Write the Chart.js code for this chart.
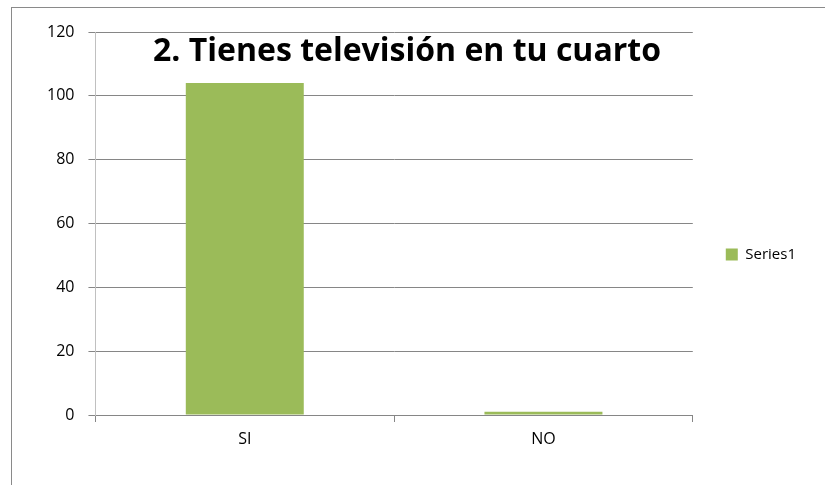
<!DOCTYPE html>
<html>
<head>
<meta charset="utf-8">
<script src="https://cdn.jsdelivr.net/npm/chart.js@4/dist/chart.umd.min.js"></script>
<style>
  html, body { margin: 0; padding: 0; background: #fff; overflow: hidden; }
  #wrap { position: relative; width: 825px; height: 485px; }
  #frame { position: absolute; left: 11px; top: 7px; width: 900px; height: 600px;
           border: 1px solid #8a8a8a; pointer-events: none; }
</style>
</head>
<body>
<div id="wrap">
  <canvas id="grafico" width="825" height="485"></canvas>
  <div id="frame"></div>
</div>
<script>
const titulo = '2. Tienes televisión en tu cuarto';
const categorias = ['SI', 'NO'];
const valores = [104, 1];
const serieNombre = 'Series1';
const ticksY = [0, 20, 40, 60, 80, 100, 120];

const verde = '#9bbb59';
const gris = '#868686';
const fuente = '"Open Sans", sans-serif';

// titulo dibujado encima del area del grafico (como en Excel)
const tituloPlugin = {
  id: 'tituloEncima',
  afterDraw(chart) {
    const c = chart.ctx;
    c.save();
    c.font = 'bold 32px ' + fuente;
    c.fillStyle = '#000';
    c.textAlign = 'center';
    c.textBaseline = 'alphabetic';
    c.fillText(titulo, 407, 61);
    c.restore();
  }
};

const ctx = document.getElementById('grafico').getContext('2d');
const grafico = new Chart(ctx, {
  type: 'bar',
  data: {
    labels: categorias,
    datasets: [{
      label: serieNombre,
      data: valores,
      backgroundColor: verde,
      borderWidth: 0,
      categoryPercentage: 0.79,
      barPercentage: 0.5
    }]
  },
  options: {
    responsive: false,
    animation: false,
    layout: { padding: { left: 33, top: 32, right: 19, bottom: 8 } },
    plugins: {
      title: { display: false },
      tooltip: { enabled: false },
      legend: {
        position: 'right',
        labels: {
          boxWidth: 12,
          boxHeight: 12,
          padding: 33,
          color: '#000',
          font: { family: fuente, size: 15 }
        }
      }
    },
    scales: {
      x: {
        afterFit(axis) { axis.height = 62; },
        grid: { drawOnChartArea: false, tickLength: 7, color: gris, offset: true },
        border: { color: gris },
        ticks: { color: '#000', padding: 8, font: { family: fuente, size: 16 } }
      },
      y: {
        min: 0,
        max: 120,
        afterBuildTicks(axis) { axis.ticks = ticksY.map(v => ({ value: v })); },
        grid: { color: gris, tickLength: 7 },
        border: { color: '#c0c0c0' },
        ticks: { color: '#000', padding: 14, font: { family: fuente, size: 16 } }
      }
    }
  },
  plugins: [tituloPlugin]
});
</script>
</body>
</html>
